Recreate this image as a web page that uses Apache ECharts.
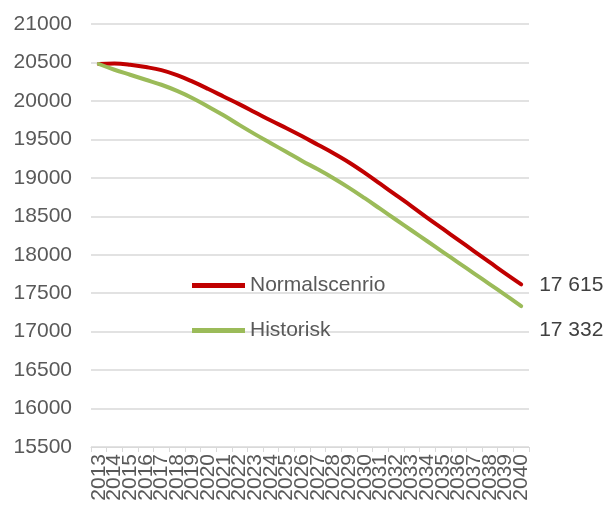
<!DOCTYPE html>
<html>
<head>
<meta charset="utf-8">
<script src="https://cdn.jsdelivr.net/npm/echarts@6/dist/echarts.min.js"></script>
<style>
  html, body { margin: 0; padding: 0; background: #fff; }
  #chart { width: 606px; height: 507px; }
</style>
</head>
<body>
<div id="chart"></div>
<script>
const years = ["2013","2014","2015","2016","2017","2018","2019","2020","2021","2022",
  "2023","2024","2025","2026","2027","2028","2029","2030","2031","2032",
  "2033","2034","2035","2036","2037","2038","2039","2040"];

const normal = [20480, 20485, 20470, 20440, 20400, 20335, 20250, 20155, 20055, 19955,
  19850, 19745, 19645, 19540, 19430, 19320, 19200, 19065, 18920, 18775,
  18630, 18480, 18335, 18190, 18045, 17900, 17755, 17615];

const historisk = [20480, 20405, 20340, 20275, 20210, 20130, 20035, 19925, 19810, 19685,
  19565, 19450, 19335, 19220, 19110, 18995, 18870, 18735, 18595, 18455,
  18315, 18175, 18035, 17895, 17755, 17615, 17475, 17332];

const font = "'Liberation Sans', Arial, sans-serif";
const fmt = (v) => String(v).replace(/\B(?=(\d{3})+(?!\d))/g, " ");

const chart = echarts.init(document.getElementById("chart"));
chart.setOption({
  animation: false,
  grid: { left: 91, right: 77, top: 24, bottom: 60, containLabel: false },
  legend: {
    orient: "vertical",
    left: 192,
    top: 275,
    padding: 0,
    itemGap: 24,
    icon: "rect",
    itemWidth: 53,
    itemHeight: 5,
    textStyle: { fontFamily: font, fontSize: 21, color: "#595959" },
    data: ["Normalscenrio", "Historisk"],
  },
  xAxis: {
    type: "category",
    data: years,
    boundaryGap: true,
    axisLine: { lineStyle: { color: "#d9d9d9", width: 1 } },
    axisTick: { show: true, interval: 0, length: 5, lineStyle: { color: "#d9d9d9" } },
    axisLabel: {
      interval: 0,
      rotate: 90,
      fontFamily: font,
      fontSize: 21,
      color: "#595959",
      margin: 7,
    },
  },
  yAxis: {
    type: "value",
    min: 15500,
    max: 21000,
    interval: 500,
    axisLine: { show: false },
    axisTick: { show: false },
    axisLabel: {
      fontFamily: font,
      fontSize: 21,
      color: "#595959",
      margin: 19,
      formatter: (v) => String(v),
    },
    splitLine: { lineStyle: { color: "#d9d9d9", width: 1.5 } },
  },
  series: [
    {
      name: "Normalscenrio",
      type: "line",
      data: normal,
      smooth: 0.4,
      symbol: "none",
      lineStyle: { width: 4, color: "#c00000", cap: "round" },
      itemStyle: { color: "#c00000" },
      endLabel: {
        show: true,
        formatter: (p) => fmt(p.value),
        fontFamily: font,
        fontSize: 21,
        color: "#404040",
        distance: 18,
        offset: [0, 1],
      },
    },
    {
      name: "Historisk",
      type: "line",
      data: historisk,
      smooth: 0.4,
      symbol: "none",
      lineStyle: { width: 4, color: "#9bbb59", cap: "round" },
      itemStyle: { color: "#9bbb59" },
      endLabel: {
        show: true,
        formatter: (p) => fmt(p.value),
        fontFamily: font,
        fontSize: 21,
        color: "#404040",
        distance: 18,
        offset: [0, 24],
      },
    },
  ],
});
</script>
</body>
</html>
